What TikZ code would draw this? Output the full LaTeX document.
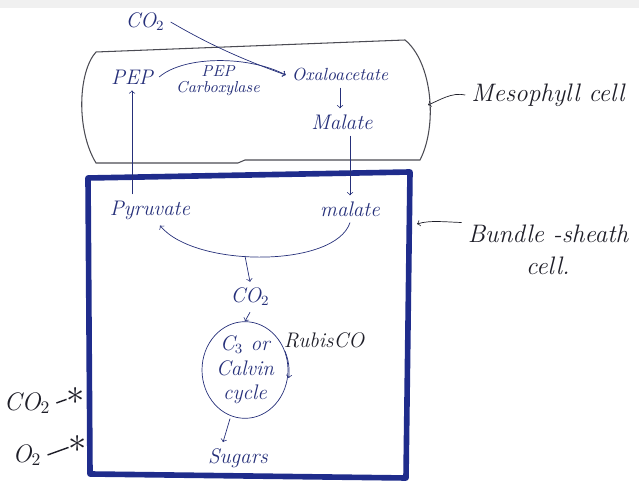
\documentclass[tikz,border=0pt]{standalone}
\usepackage{amsmath}
\usepackage{xcolor}
\usepackage{tikz}
\usetikzlibrary{shapes.geometric}
\definecolor{ink}{HTML}{26307A}
\definecolor{pen}{HTML}{1E1E28}
\definecolor{wall}{HTML}{1F2C8C}

\begin{document}
\begin{tikzpicture}[x=0.02cm,y=-0.02cm,
    every node/.style={font=\itshape},
    inner/.style={text=ink},
    outer/.style={text=pen,font=\itshape\Large},
    flow/.style={->,draw=ink,thin}]
  \useasboundingbox (0,0) rectangle (639,492);
  \fill[black!6] (0,0) rectangle (639,8);

  % mesophyll cell
  \draw[pen!80,semithick] (96,52) -- (405,40)
    .. controls (432,62) and (438,125) .. (420,160)
    -- (245,160) -- (238,163) -- (96,163)
    .. controls (76,130) and (78,72) .. (96,52);

  % bundle-sheath cell
  \draw[wall,line width=3.2pt,line join=round] (88,178) -- (410,172) -- (406,478) -- (90,474) -- cycle;

  % nodes
  \node[inner] (co2a) at (145,22) {\large CO$_2$};
  \node[inner,font=\itshape\large] (pep) at (132,77) {PEP};
  \node[inner,align=center,font=\itshape\small,inner sep=1pt] (pepc) at (218,81) {PEP\\[-2pt]Carboxylase};
  \node[inner] (oaa) at (340,75) {Oxaloacetate};
  \node[inner,font=\itshape\large] (malm) at (342,122) {Malate};
  \node[inner,font=\itshape\large] (pyr) at (150,210) {Pyruvate};
  \node[inner,font=\itshape\large] (malb) at (350,209) {malate};
  \node[inner,font=\itshape\large] (co2b) at (250,297) {CO$_2$};
  \node[ellipse,draw=ink,inner,align=center,font=\itshape\large,minimum width=1.72cm,minimum height=1.9cm,inner sep=0pt]
    (calvin) at (245,370) {C$_3$ or\\Calvin\\cycle};
  \node[text=pen,font=\itshape\large] (rubisco) at (324,340) {RubisCO};
  \node[inner,font=\itshape\large] (sugars) at (238,458) {Sugars};
  \node[outer] (co2l) at (27,403) {CO$_2$};
  \node[outer] (o2l) at (27,455) {O$_2$};
  \node[text=pen,font=\huge,inner sep=0pt] (star1) at (76,396) {$\ast$};
  \node[text=pen,font=\huge,inner sep=0pt] (star2) at (78,444) {$\ast$};
  \node[outer] (meslabel) at (548,95) {Mesophyll cell};
  \node[outer,align=center] (bslabel) at (548,250) {Bundle -sheath\\cell.};
  \coordinate (mesr) at (428,105);
  \coordinate (bsr) at (417,224);
  \coordinate (split) at (245,256);

  % connectors
  \draw[flow] (co2a.east) .. controls (215,48) and (250,62) .. (oaa.west);
  \draw[flow] (pep.east) .. controls (185,55) and (250,56) .. (oaa.west);
  \draw[flow] (oaa.south) -- (oaa.south |- malm.north);
  \draw[flow] (malm.south -| malb) -- (malb.north);
  \draw[flow] (pep |- pyr.north) -- (pep.south);
  \draw[flow] (malb.south) .. controls (335,268) and (195,268) .. ([xshift=0.2cm]pyr.south);
  \draw[flow] (split) -- (co2b.north);
  \draw[flow] (co2b.south) -- (calvin.north);
  \draw[flow] ([xshift=-0.3cm]calvin.south) -- ([xshift=-0.3cm]sugars.north);
  \draw[flow] (calvin.25) arc[start angle=25,end angle=-8,x radius=0.86cm,y radius=0.95cm];
  \draw[pen,thick] (co2l.east) -- (star1);
  \draw[pen,thick] (o2l.east) -- (star2);
  \draw[->,pen] (meslabel.west) .. controls (452,92) and (440,100) .. (mesr);
  \draw[->,pen] ([yshift=0.55cm]bslabel.west) .. controls (445,222) and (430,220) .. (bsr);
\end{tikzpicture}
\end{document}
